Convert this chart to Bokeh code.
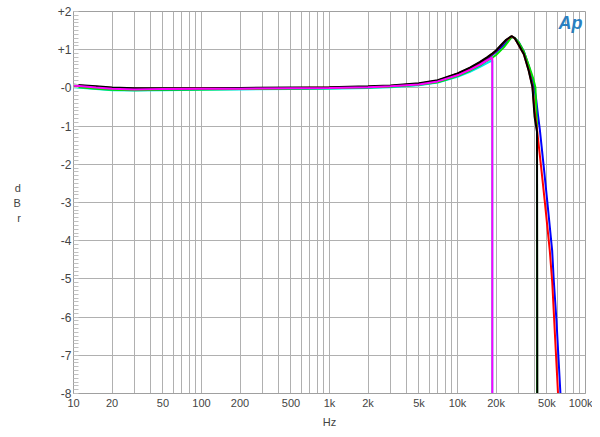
from bokeh.plotting import figure
from bokeh.models import FixedTicker, Range1d, Label
from bokeh.embed import file_html
from bokeh.resources import INLINE

# ---- data (frequency in Hz, level in dBr) ----
cyan_f = [10, 15, 20, 30, 50, 100, 200, 500, 1000, 2000, 3000, 5000, 7000, 10000, 12500, 15000, 17000, 18700, 18700]
cyan_db = [0.02, -0.03, -0.06, -0.07, -0.06, -0.05, -0.04, -0.03, -0.02, 0.0, 0.02, 0.07, 0.14, 0.29, 0.42, 0.55, 0.65, 0.72, -8.0]

magenta_f = [10, 15, 20, 30, 50, 100, 200, 500, 1000, 2000, 3000, 5000, 7000, 10000, 12500, 15000, 17000, 18700, 18700]
magenta_db = [0.06, 0.01, -0.02, -0.04, -0.03, -0.02, -0.02, -0.01, 0.0, 0.02, 0.04, 0.09, 0.17, 0.33, 0.47, 0.61, 0.72, 0.79, -8.0]

green_f = [10, 15, 20, 30, 50, 100, 200, 500, 1000, 2000, 3000, 5000, 7000, 10000, 12500, 15000, 17000, 18700, 20000, 23000, 26500, 28000, 30000, 33000, 36000, 39000, 40600, 41800, 41900]
green_db = [0.03, -0.02, -0.05, -0.06, -0.05, -0.04, -0.03, -0.02, -0.01, 0.01, 0.03, 0.08, 0.15, 0.31, 0.45, 0.59, 0.71, 0.79, 0.86, 1.06, 1.33, 1.31, 1.2, 0.95, 0.6, 0.25, 0.02, -1.0, -8.0]

blue_f = [10, 15, 20, 30, 50, 100, 200, 500, 1000, 2000, 3000, 5000, 7000, 10000, 12500, 15000, 17000, 18700, 20000, 23000, 26500, 28000, 30000, 33000, 36000, 39000, 41000, 42500, 44000, 47200, 50200, 54900, 56500, 59300, 63700]
blue_db = [0.05, 0.0, -0.03, -0.05, -0.04, -0.03, -0.02, -0.01, 0.0, 0.02, 0.04, 0.1, 0.18, 0.35, 0.5, 0.64, 0.76, 0.86, 0.94, 1.12, 1.33, 1.31, 1.2, 0.95, 0.58, 0.15, -0.25, -0.7, -1.1, -2.07, -2.95, -4.26, -5.04, -6.09, -8.0]

red_f = [10, 15, 20, 30, 50, 100, 200, 500, 1000, 2000, 3000, 5000, 7000, 10000, 12500, 15000, 17000, 18700, 20000, 22000, 24000, 26500, 28000, 30000, 33000, 36000, 38500, 40000, 42000, 45000, 48000, 52600, 55000, 58000, 61000]
red_db = [0.07, 0.03, 0.0, -0.02, -0.02, -0.01, -0.01, 0.0, 0.01, 0.03, 0.05, 0.11, 0.19, 0.37, 0.52, 0.67, 0.79, 0.89, 0.97, 1.12, 1.25, 1.35, 1.3, 1.13, 0.88, 0.46, 0.05, -0.6, -1.15, -2.07, -2.95, -4.26, -5.1, -6.6, -8.0]

black_f = [10, 15, 20, 30, 50, 100, 200, 500, 1000, 2000, 3000, 5000, 7000, 10000, 12500, 15000, 17000, 18700, 20000, 22000, 24000, 26500, 28000, 30000, 33000, 36000, 38500, 40000, 41800, 42000]
black_db = [0.08, 0.04, 0.01, -0.01, -0.01, -0.01, 0.0, 0.01, 0.02, 0.04, 0.06, 0.12, 0.2, 0.38, 0.53, 0.68, 0.8, 0.9, 0.98, 1.13, 1.26, 1.36, 1.3, 1.13, 0.88, 0.45, 0.02, -0.75, -1.15, -8.0]

x_ticks = [10, 20, 50, 100, 200, 500, 1000, 2000, 5000, 10000, 20000, 50000, 100000]
x_tick_labels = ["10", "20", "50", "100", "200", "500", "1k", "2k", "5k", "10k", "20k", "50k", "100k"]
y_ticks = [-8, -7, -6, -5, -4, -3, -2, -1, 0, 1, 2]
y_tick_labels = ["-8", "-7", "-6", "-5", "-4", "-3", "-2", "-1", "-0", "+1", "+2"]

FONT = "Liberation Sans"
GRID = "#b0b0b0"

W, H = 592, 434
p = figure(width=W, height=H, x_axis_type="log", output_backend="svg", toolbar_location=None,
           x_range=Range1d(10, 100000), y_range=Range1d(-8, 2),
           min_border_left=73, min_border_right=7, min_border_top=11, min_border_bottom=41)

p.background_fill_color = "white"
p.border_fill_color = "white"
p.outline_line_color = "#a0a0a0"

# x axis / grid
minor_x = [m * 10 ** d for d in range(1, 5) for m in range(2, 10) if m * 10 ** d not in x_ticks]
p.xaxis.ticker = FixedTicker(ticks=x_ticks, minor_ticks=minor_x)
p.xaxis.major_label_overrides = {t: l for t, l in zip(x_ticks, x_tick_labels)}
p.xaxis.axis_label = "Hz"
p.xaxis.axis_label_text_font = FONT
p.xaxis.axis_label_text_font_style = "normal"
p.xaxis.axis_label_text_font_size = "11px"
p.xaxis.axis_label_standoff = 4
p.xaxis.major_label_text_font = FONT
p.xaxis.major_label_text_font_size = "11px"
p.xaxis.major_label_standoff = 3
p.xaxis.major_tick_in = 0
p.xaxis.major_tick_out = 0
p.xaxis.minor_tick_in = 0
p.xaxis.minor_tick_out = 0
p.xaxis.axis_line_color = "#a0a0a0"

p.xgrid.grid_line_color = GRID
p.xgrid.minor_grid_line_color = GRID

# y axis / grid
minor_y = [round(-8 + 0.1 * i, 1) for i in range(101)]
p.yaxis.ticker = FixedTicker(ticks=y_ticks, minor_ticks=minor_y)
p.yaxis.major_label_overrides = {t: l for t, l in zip(y_ticks, y_tick_labels)}
p.yaxis.major_label_text_font = FONT
p.yaxis.major_label_text_font_size = "12px"
p.yaxis.major_label_standoff = 2
p.yaxis.major_tick_in = 0
p.yaxis.major_tick_out = 0
p.yaxis.minor_tick_in = 5
p.yaxis.minor_tick_out = 0
p.yaxis.minor_tick_line_color = "#c0c0c0"
p.yaxis.axis_line_color = "#a0a0a0"
p.ygrid.grid_line_color = GRID

# y axis label: stacked letters, horizontal
yax = p.yaxis[0]
yax.axis_label = "d\nB\nr"
yax.axis_label_text_font = FONT
yax.axis_label_text_font_style = "normal"
yax.axis_label_text_font_size = "11px"
yax.axis_label_text_line_height = 1.25
yax.axis_label_standoff = 34
if hasattr(yax, "axis_label_orientation"):
    yax.axis_label_orientation = "horizontal"

# curves
series = [
    (cyan_f, cyan_db, "#00e5ee"),
    (blue_f, blue_db, "#0000ff"),
    (green_f, green_db, "#00e000"),
    (red_f, red_db, "#ff0000"),
    (black_f, black_db, "#000000"),
    (magenta_f, magenta_db, "#ff00ff"),
]
for fx, db, col in series:
    p.line(fx, db, line_color=col, line_width=2)

# Ap logo
p.add_layout(Label(x=497, y=371, x_units="screen", y_units="screen", text="Ap",
                   text_font=FONT, text_font_size="18px", text_font_style="bold italic",
                   text_align="center", text_baseline="middle", text_color="#2a7fc0"))

open("out.html", "w").write(file_html(p, INLINE))
